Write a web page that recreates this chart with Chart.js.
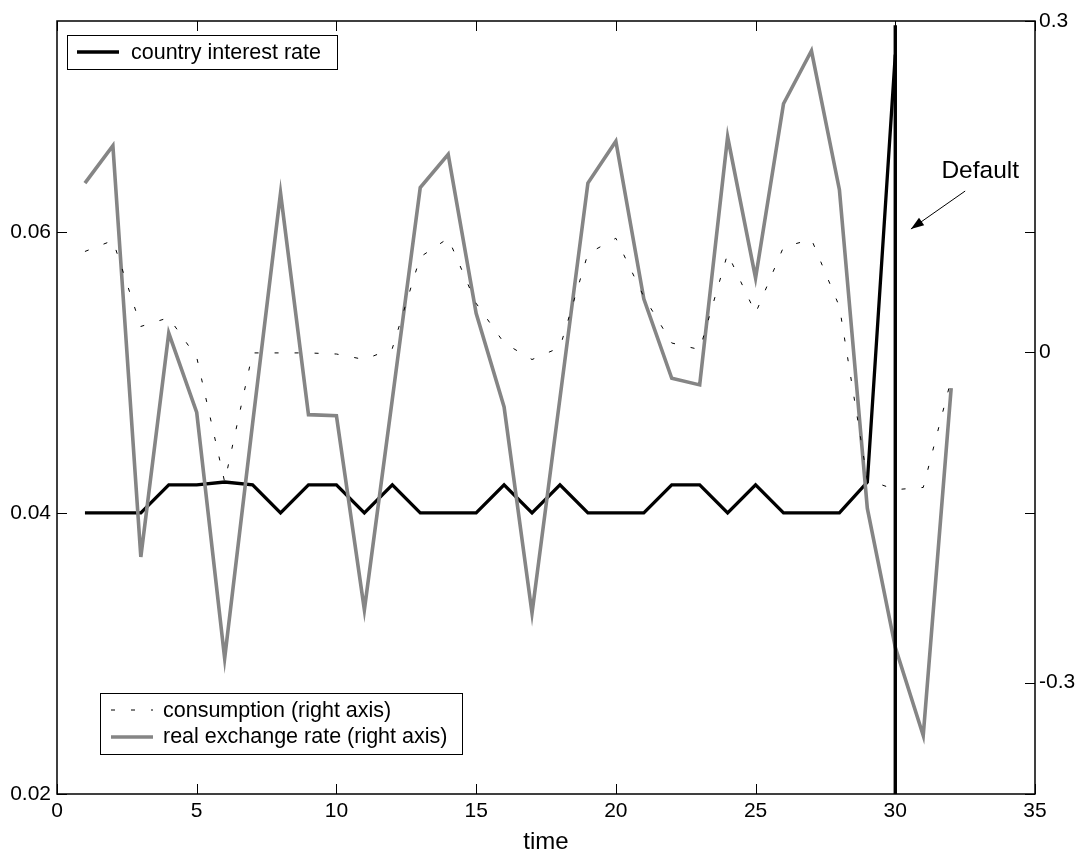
<!DOCTYPE html>
<html>
<head>
<meta charset="utf-8">
<script src="https://cdn.jsdelivr.net/npm/chart.js@4.4.1/dist/chart.umd.min.js"></script>
<style>
  html, body { margin: 0; padding: 0; background: #fff; }
  #wrap { width: 1086px; height: 861px; }
</style>
</head>
<body>
<div id="wrap"><canvas id="c" width="1086" height="861"></canvas></div>
<script>
// Simulated path around a sovereign default (period 30)
const time = [1, 2, 3, 4, 5, 6, 7, 8, 9, 10, 11, 12, 13, 14, 15, 16,
              17, 18, 19, 20, 21, 22, 23, 24, 25, 26, 27, 28, 29, 30, 31, 32];

// left axis: country interest rate, periods 1-30
const interestRate = [0.040, 0.040, 0.040, 0.042, 0.042, 0.0422, 0.042, 0.040, 0.042, 0.042,
                      0.040, 0.042, 0.040, 0.040, 0.040, 0.042, 0.040, 0.042, 0.040, 0.040,
                      0.040, 0.042, 0.042, 0.040, 0.042, 0.040, 0.040, 0.040, 0.0422, 0.0726];

// right axis: consumption and real exchange rate, periods 1-32
const consumption = [0.091, 0.101, 0.023, 0.031, -0.005, -0.118, -0.001, -0.001, -0.001, -0.002,
                     -0.007, 0.003, 0.086, 0.103, 0.044, 0.008, -0.007, 0.004, 0.089, 0.103,
                     0.050, 0.008, 0.002, 0.089, 0.035, 0.095, 0.102, 0.041, -0.116, -0.125,
                     -0.123, -0.025];

const realExchangeRate = [0.153, 0.187, -0.186, 0.017, -0.055, -0.278, -0.065, 0.144, -0.057, -0.058,
                          -0.234, -0.043, 0.149, 0.179, 0.035, -0.050, -0.237, -0.042, 0.153, 0.191,
                          0.048, -0.024, -0.030, 0.195, 0.067, 0.225, 0.273, 0.147, -0.142, -0.268,
                          -0.348, -0.033];

// default marker: vertical line at the default period
const defaultPeriod = 30;
const defaultSpan = [0.02, 0.0747];

const xTicks = [0, 5, 10, 15, 20, 25, 30, 35];
const leftTicks = [0.02, 0.04, 0.06];
const rightTicks = [-0.3, 0, 0.3];

const seriesNames = ['country interest rate', 'consumption (right axis)', 'real exchange rate (right axis)'];
const defaultLabel = 'Default';
const xTitle = 'time';

const FONT = "'Liberation Sans', Arial, Helvetica, sans-serif";
const GREY = '#858585';

const toPoints = (xs, ys) => ys.map((v, i) => ({ x: xs[i], y: v }));
const fixedTicks = list => scale => { scale.ticks = list.map(v => ({ value: v })); };

// white page behind the chart
const background = {
  id: 'background',
  beforeDraw(chart) {
    const ctx = chart.ctx;
    ctx.save();
    ctx.fillStyle = '#fff';
    ctx.fillRect(0, 0, chart.width, chart.height);
    ctx.restore();
  }
};

// axes box with inward tick marks on all four sides
const frame = {
  id: 'frame',
  afterDatasetsDraw(chart) {
    const { ctx, chartArea: a, scales } = chart;
    const len = 10;
    ctx.save();
    ctx.strokeStyle = '#000';
    ctx.lineWidth = 1;
    ctx.beginPath();
    scales.x.ticks.forEach(t => {
      const px = Math.round(scales.x.getPixelForValue(t.value)) + 0.5;
      ctx.moveTo(px, a.bottom); ctx.lineTo(px, a.bottom - len);
      ctx.moveTo(px, a.top); ctx.lineTo(px, a.top + len);
    });
    scales.y.ticks.forEach(t => {
      const py = Math.round(scales.y.getPixelForValue(t.value)) + 0.5;
      ctx.moveTo(a.left, py); ctx.lineTo(a.left + len, py);
      ctx.moveTo(a.right, py); ctx.lineTo(a.right - len, py);
    });
    scales.y2.ticks.forEach(t => {
      const py = Math.round(scales.y2.getPixelForValue(t.value)) + 0.5;
      ctx.moveTo(a.right, py); ctx.lineTo(a.right - len, py);
    });
    ctx.stroke();
    ctx.lineWidth = 1.5;
    ctx.strokeRect(a.left, a.top, a.right - a.left, a.bottom - a.top);
    ctx.restore();
  }
};

// the two boxed legends and the "Default" arrow
const notes = {
  id: 'notes',
  afterDraw(chart) {
    const { ctx, chartArea: a, scales } = chart;
    const ds = chart.data.datasets;
    ctx.save();
    ctx.font = '21.5px ' + FONT;
    ctx.textBaseline = 'middle';
    ctx.textAlign = 'left';

    const sample = (d, x0, y) => {
      ctx.save();
      ctx.strokeStyle = d.borderColor;
      ctx.lineWidth = d.borderWidth;
      ctx.setLineDash(d.borderDash || []);
      ctx.beginPath();
      ctx.moveTo(x0, y); ctx.lineTo(x0 + 42, y);
      ctx.stroke();
      ctx.restore();
    };

    // upper legend
    let bx = a.left + 10, by = a.top + 14;
    ctx.lineWidth = 1;
    ctx.strokeStyle = '#000';
    ctx.strokeRect(bx + 0.5, by + 0.5, 270, 34);
    sample(ds[0], bx + 10, by + 17);
    ctx.fillStyle = '#000';
    ctx.fillText(ds[0].label, bx + 64, by + 18);

    // lower legend
    bx = a.left + 43; by = a.bottom - 101;
    ctx.strokeRect(bx + 0.5, by + 0.5, 362, 61);
    sample(ds[1], bx + 11, by + 17);
    ctx.fillText(ds[1].label, bx + 63, by + 18);
    sample(ds[2], bx + 11, by + 44);
    ctx.fillText(ds[2].label, bx + 63, by + 44);

    // annotation
    const X = v => scales.x.getPixelForValue(v);
    const Y = v => scales.y.getPixelForValue(v);
    ctx.font = '24.5px ' + FONT;
    ctx.textAlign = 'center';
    ctx.fillText(defaultLabel, X(33.04), Y(0.0643));
    const x1 = X(32.5), y1 = Y(0.0629), x2 = X(30.56), y2 = Y(0.0602);
    ctx.beginPath();
    ctx.moveTo(x1, y1); ctx.lineTo(x2, y2);
    ctx.stroke();
    const ang = Math.atan2(y2 - y1, x2 - x1), hl = 13, hw = 4.5;
    ctx.beginPath();
    ctx.moveTo(x2, y2);
    ctx.lineTo(x2 - hl * Math.cos(ang) + hw * Math.sin(ang), y2 - hl * Math.sin(ang) - hw * Math.cos(ang));
    ctx.lineTo(x2 - hl * Math.cos(ang) - hw * Math.sin(ang), y2 - hl * Math.sin(ang) + hw * Math.cos(ang));
    ctx.closePath();
    ctx.fill();
    ctx.restore();
  }
};

const tickFont = { family: FONT, size: 21 };
const noGrid = { display: false, drawTicks: false };

new Chart(document.getElementById('c'), {
  type: 'line',
  data: {
    datasets: [
      {
        label: seriesNames[0],
        data: toPoints(time, interestRate),
        yAxisID: 'y',
        borderColor: '#000',
        borderWidth: 3.3,
        pointRadius: 0,
        order: 3
      },
      {
        label: seriesNames[1],
        data: toPoints(time, consumption),
        yAxisID: 'y2',
        borderColor: '#000',
        borderWidth: 1,
        borderDash: [4, 16],
        pointRadius: 0,
        order: 1
      },
      {
        label: seriesNames[2],
        data: toPoints(time, realExchangeRate),
        yAxisID: 'y2',
        borderColor: GREY,
        borderWidth: 3.6,
        pointRadius: 0,
        order: 2
      },
      {
        label: defaultLabel,
        data: defaultSpan.map(v => ({ x: defaultPeriod, y: v })),
        yAxisID: 'y',
        borderColor: '#000',
        borderWidth: 3.4,
        pointRadius: 0,
        order: 0
      }
    ]
  },
  options: {
    responsive: false,
    animation: false,
    events: [],
    layout: { padding: { top: 21, left: 0, right: 0, bottom: 0 } },
    plugins: { legend: { display: false }, tooltip: { enabled: false }, title: { display: false } },
    elements: { line: { tension: 0, borderCapStyle: 'butt', borderJoinStyle: 'miter' } },
    scales: {
      x: {
        type: 'linear',
        min: 0,
        max: 35,
        grid: noGrid,
        border: { display: false },
        afterBuildTicks: fixedTicks(xTicks),
        afterFit: s => { s.height = 67; },
        ticks: { color: '#000', font: tickFont, padding: 5, maxRotation: 0, autoSkip: false },
        title: { display: true, text: xTitle, color: '#000', font: { family: FONT, size: 24 }, padding: { top: 0, bottom: 4 } }
      },
      y: {
        type: 'linear',
        position: 'left',
        min: 0.02,
        max: 0.075,
        grid: noGrid,
        border: { display: false },
        afterBuildTicks: fixedTicks(leftTicks),
        afterFit: s => { s.width = 57; },
        ticks: { color: '#000', font: tickFont, padding: 6, callback: v => String(v) }
      },
      y2: {
        type: 'linear',
        position: 'right',
        min: -0.401,
        max: 0.3,
        grid: noGrid,
        border: { display: false },
        afterBuildTicks: fixedTicks(rightTicks),
        afterFit: s => { s.width = 51; },
        ticks: { color: '#000', font: tickFont, padding: 4, callback: v => String(v) }
      }
    }
  },
  plugins: [background, frame, notes]
});
</script>
</body>
</html>
